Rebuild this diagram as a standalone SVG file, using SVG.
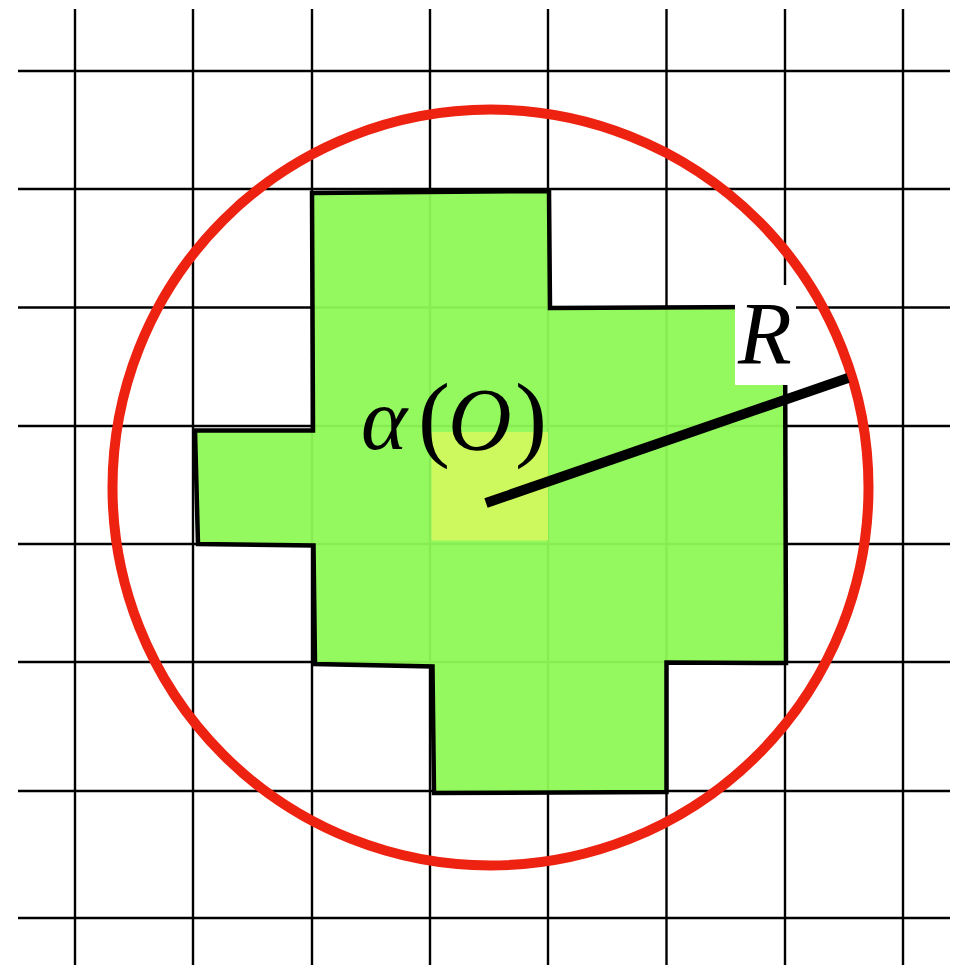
<svg xmlns="http://www.w3.org/2000/svg" width="955" height="965" viewBox="0 0 955 965">
<style>
.grid line{stroke:#000;stroke-width:2.4}
.lbl{font-family:"Liberation Serif","DejaVu Serif",serif;font-size:88px;fill:#000}
.it{font-style:italic}
.par{font-size:96px}
</style>
<rect width="955" height="965" fill="#fff"/>
<g id="grid" class="grid">
<line x1="75" y1="9" x2="75" y2="965"/>
<line x1="193" y1="9" x2="193" y2="965"/>
<line x1="312" y1="9" x2="312" y2="965"/>
<line x1="430" y1="9" x2="430" y2="965"/>
<line x1="548" y1="9" x2="548" y2="965"/>
<line x1="666.5" y1="9" x2="666.5" y2="965"/>
<line x1="785" y1="9" x2="785" y2="965"/>
<line x1="903" y1="9" x2="903" y2="965"/>
<line x1="18" y1="71" x2="950" y2="71"/>
<line x1="18" y1="189" x2="950" y2="189"/>
<line x1="18" y1="307.5" x2="950" y2="307.5"/>
<line x1="18" y1="426" x2="950" y2="426"/>
<line x1="18" y1="544" x2="950" y2="544"/>
<line x1="18" y1="662" x2="950" y2="662"/>
<line x1="18" y1="791" x2="950" y2="791"/>
<line x1="18" y1="918" x2="950" y2="918"/>
</g>
<g id="region">
<polygon points="312,193 549,191 550,308 785,307 786,663 666.5,662.5 666.5,792 434,793 432.5,666.5 315,664 313.5,545.5 198,544 195,430.5 313,430.5" fill="#8ef856" fill-opacity="0.95" stroke="#000" stroke-width="4.5" stroke-linejoin="miter"/>
</g>
<g id="origin-cell">
<rect x="431.5" y="432" width="116.5" height="108.5" fill="#d2f85e" fill-opacity="0.92"/>
</g>
<g id="label-alpha">
<text class="lbl" y="449"><tspan class="it" x="361">α</tspan><tspan class="par" x="418">(</tspan><tspan class="it" x="448">O</tspan><tspan class="par" x="515">)</tspan></text>
</g>
<g id="label-R">
<rect x="735" y="285" width="61" height="100" fill="#fff"/>
<text class="lbl it" x="738" y="363">R</text>
</g>
<g id="circle">
<circle cx="490.5" cy="487.5" r="378" fill="none" stroke="#ee2210" stroke-width="10"/>
</g>
<g id="radius">
<line x1="486" y1="503" x2="848" y2="378" stroke="#000" stroke-width="10"/>
</g>
</svg>
